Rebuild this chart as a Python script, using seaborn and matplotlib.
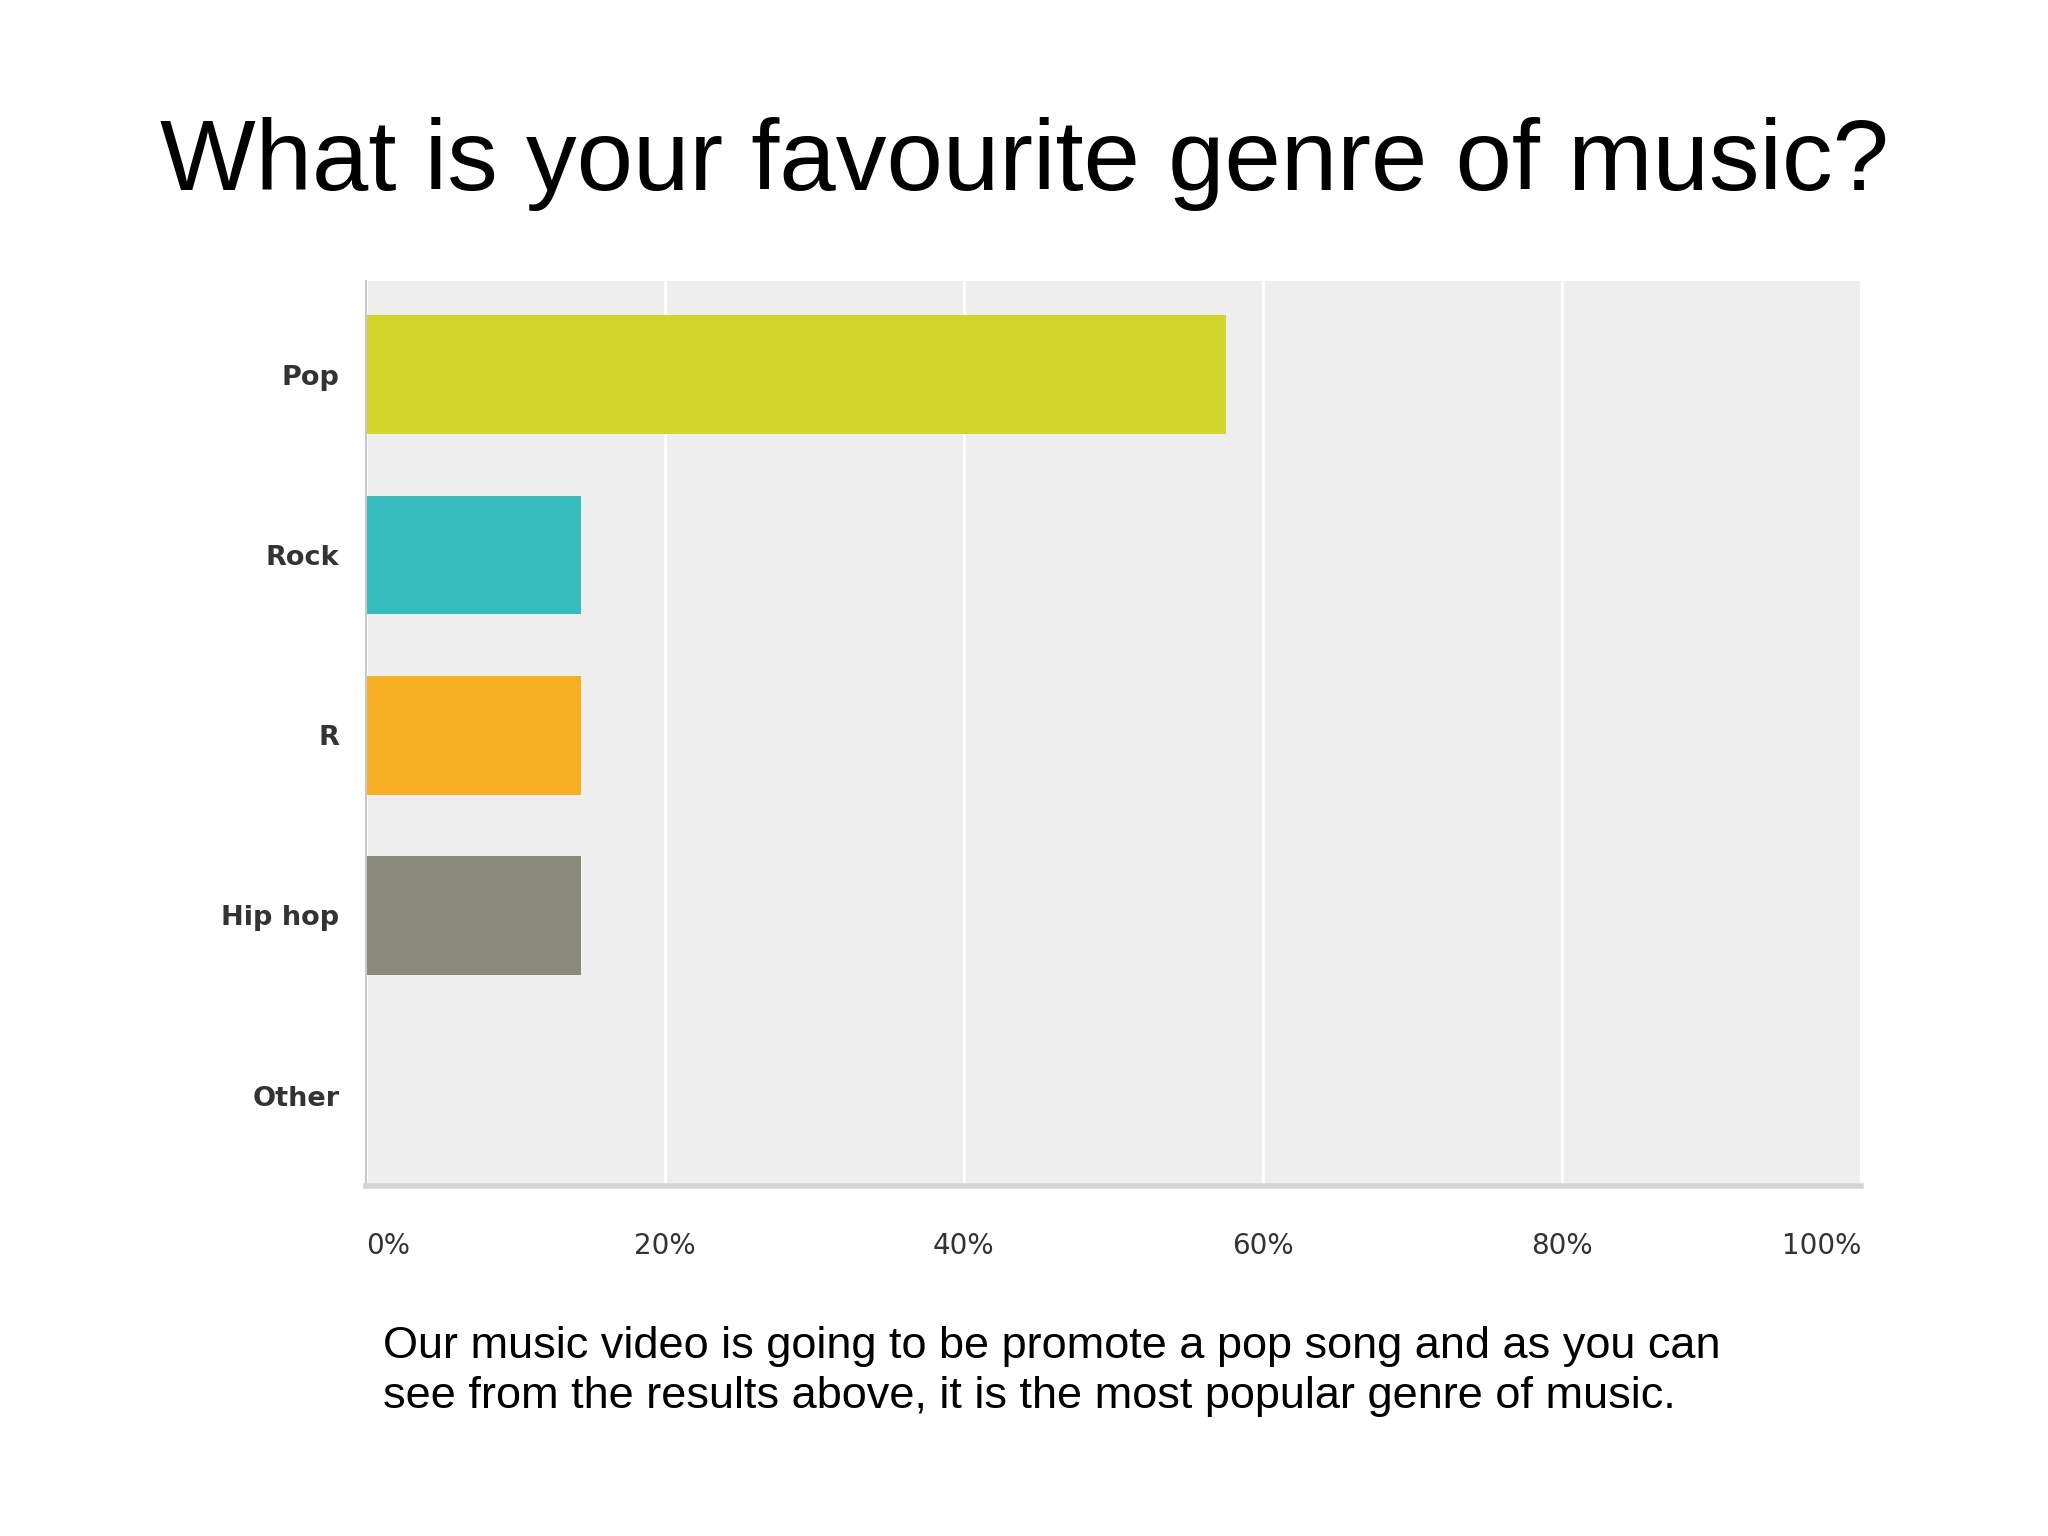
import matplotlib
matplotlib.use("Agg")
import matplotlib.pyplot as plt
import seaborn as sns
import pandas as pd

# survey answers (share of respondents, %)
genres = ["Pop", "Rock", "R", "Hip hop", "Other"]
shares = [57.5, 14.4, 14.4, 14.4, 0.0]
bar_colors = ["#d3d52a", "#34bdba", "#f5af21", "#8a8a7b", "#cccccc"]
x_ticks = [0, 20, 40, 60, 80, 100]
x_tick_labels = ["0%", "20%", "40%", "60%", "80%", "100%"]

title = "What is your favourite genre of music?"
caption = ("Our music video is going to be promote a pop song and as you can\n"
           "see from the results above, it is the most popular genre of music.")

sns.set_style("white")
plt.rcParams["font.family"] = ["Liberation Sans", "DejaVu Sans"]

df = pd.DataFrame({"genre": genres, "share": shares})

fig = plt.figure(figsize=(20.48, 15.36), dpi=100)
ax = fig.add_axes([0.1786, 0.228, 0.7301, 0.589])
ax.set_facecolor("#efeeef")

sns.barplot(
    data=df, x="share", y="genre", hue="genre", palette=bar_colors,
    order=genres, hue_order=genres, width=0.66, legend=False,
    saturation=1, linewidth=0, edgecolor="none", ax=ax,
)

ax.set_xlim(0, 100)
ax.set_ylim(4.5, -0.52)
ax.set_xticks(x_ticks)
ax.set_xticklabels(x_tick_labels, fontsize=20, color="#333333",
                   family=["DejaVu Sans"])
for lbl, ha in zip(ax.get_xticklabels(), ["left", "center", "center", "center", "center", "right"]):
    lbl.set_horizontalalignment(ha)
ax.tick_params(axis="x", length=0, pad=33)
ax.tick_params(axis="y", length=0, pad=19)
for lbl in ax.get_yticklabels():
    lbl.set_fontsize(19.5)
    lbl.set_fontweight("bold")
    lbl.set_color("#333333")
    lbl.set_family(["DejaVu Sans"])

ax.set_axisbelow(True)
ax.grid(axis="x", color="white", linewidth=2.2)
ax.grid(axis="y", visible=False)
ax.set_xlabel("")
ax.set_ylabel("")

for side in ["top", "right"]:
    ax.spines[side].set_visible(False)
ax.spines["left"].set_color("#c8c8c8")
ax.spines["left"].set_linewidth(1.5)
ax.spines["bottom"].set_color("#d5d4d5")
ax.spines["bottom"].set_linewidth(4)

fig.text(0.5, 0.893, title, ha="center", va="center", fontsize=73, color="black")
fig.text(0.187, 0.107, caption, ha="left", va="center", fontsize=32.5,
         color="black", linespacing=1.3)

fig.savefig("out.png", dpi=100, facecolor="white")
